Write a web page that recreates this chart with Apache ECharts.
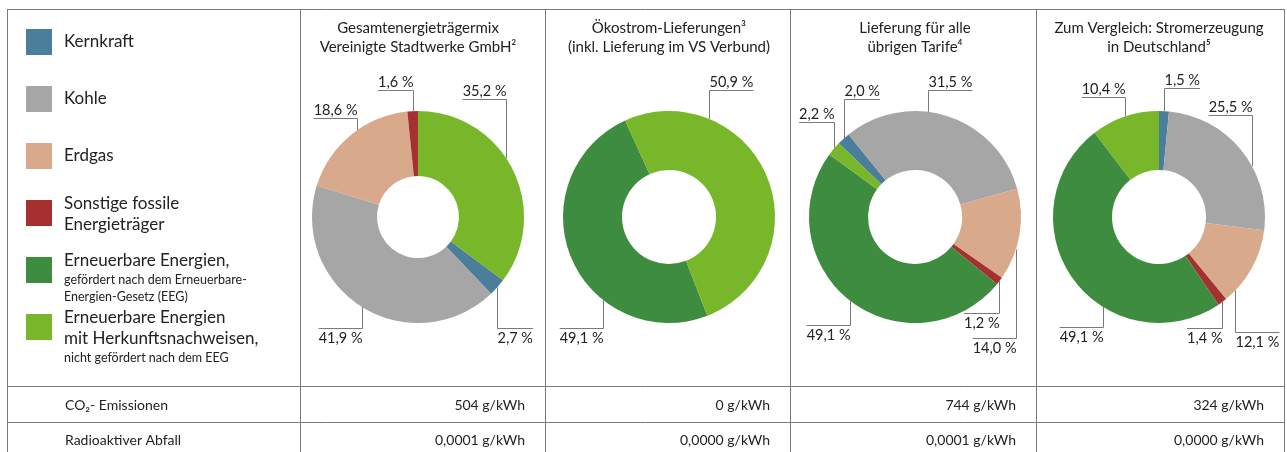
<!DOCTYPE html>
<html>
<head>
<meta charset="utf-8">
<title>Energieträgermix</title>
<script src="https://cdn.jsdelivr.net/npm/echarts@6.0.0/dist/echarts.min.js"></script>
<style>
    html, body { margin: 0; padding: 0; background: #fff; }
    #chart { width: 1287px; height: 452px; }
</style>
</head>
<body>
<div id="chart"></div>
<script>
    // Kategorien in Legendenreihenfolge
    const categories = ['Kernkraft', 'Kohle', 'Erdgas', 'Sonstige fossile Energieträger',
        'Erneuerbare Energien (EEG)', 'Erneuerbare Energien mit Herkunftsnachweisen'];
    // Legendentext: [große Zeilen, kleine Zeilen]
    const legendText = [
        [['Kernkraft'], []],
        [['Kohle'], []],
        [['Erdgas'], []],
        [['Sonstige fossile', 'Energieträger'], []],
        [['Erneuerbare Energien,'], ['gefördert nach dem Erneuerbare-', 'Energien-Gesetz (EEG)']],
        [['Erneuerbare Energien', 'mit Herkunftsnachweisen,'], ['nicht gefördert nach dem EEG']]
    ];
    const colors = ['#4a7e9b', '#a6a6a6', '#d9a98c', '#a5302f', '#3d8c40', '#78b72a'];

    // Anteile in % (Reihenfolge wie categories)
    const gesamtmix = [2.7, 41.9, 18.6, 1.6, 0, 35.2];
    const oekostrom = [0, 0, 0, 0, 49.1, 50.9];
    const uebrigeTarife = [2.0, 31.5, 14.0, 1.2, 49.1, 2.2];
    const deutschland = [1.5, 25.5, 12.1, 1.4, 49.1, 10.4];

    const pieTitles = [
        'Gesamtenergieträgermix\nVereinigte Stadtwerke GmbH²',
        'Ökostrom-Lieferungen³\n(inkl. Lieferung im VS Verbund)',
        'Lieferung für alle\nübrigen Tarife⁴',
        'Zum Vergleich: Stromerzeugung\nin Deutschland⁵'
    ];

    // Tabelle unter den Diagrammen
    const rowLabels = ['CO₂- Emissionen', 'Radioaktiver Abfall'];
    const co2Values = ['504 g/kWh', '0 g/kWh', '744 g/kWh', '324 g/kWh'];
    const wasteValues = ['0,0001 g/kWh', '0,0000 g/kWh', '0,0001 g/kWh', '0,0000 g/kWh'];

    // Beschriftungsplatzierung je Kategorie: [Winkelkorrektur, Abstand Linie zur Mitte, Seite]
    const placeGesamt = [[0, 111, 'r'], [0, 111, 'l'], [4, -99, 'l'], [0, -127, 'l'], null, [-7, -118, 'l']];
    const placeOeko = [null, null, null, null, [-29, 111, 'l'], [-45, -127, 'r']];
    const placeTarife = [[0, -118, 'r'], [-11, -127, 'r'], [8, 121, 'l'], [0, 96, 'l'], [0, 108, 'l'], [0, -95, 'l']];
    const placeDeutschland = [[0, -129, 'r'], [10, -102, 'l'], [15, 115, 'r'], [0, 111, 'l'], [-22, 110, 'l'], [0, -120, 'l']];

    const FONT = 'Lato, "Open Sans", sans-serif';
    const TEXT = '#222222';
    const GRID = '#7a7a7a';
    const R = 106, CY = 217;
    const colX = [7, 300, 545, 790, 1036, 1284];
    const rowY = [9, 386, 422];

    // startAt = Winkel (im Uhrzeigersinn ab 12 Uhr), bei dem Kernkraft beginnt
    const pies = [
        {values: gesamtmix, cx: 418, inner: 41, startAt: 126.7, place: placeGesamt},
        {values: oekostrom, cx: 669, inner: 47, startAt: 158.8, place: placeOeko},
        {values: uebrigeTarife, cx: 915, inner: 47, startAt: 314, place: placeTarife},
        {values: deutschland, cx: 1159, inner: 47, startAt: 0, place: placeDeutschland}
    ];

    const fmt = v => v.toFixed(1).replace('.', ',') + ' %';

    const series = pies.map(p => {
        const total = p.values.reduce((a, b) => a + b, 0);
        const items = [];
        let acc = 0;
        p.values.forEach((v, ci) => {
            if (v > 0) {
                items.push({ci, v, mid: p.startAt + (acc + v / 2) / total * 360});
            }
            acc += v;
        });
        return {
            type: 'pie',
            center: [p.cx, CY],
            radius: [p.inner, R],
            startAngle: 90 - p.startAt,
            clockwise: true,
            avoidLabelOverlap: false,
            silent: true,
            animation: false,
            data: items.map(it => ({name: categories[it.ci], value: it.v, itemStyle: {color: colors[it.ci]}})),
            itemStyle: {borderWidth: 0},
            label: {
                show: true,
                position: 'outside',
                formatter: params => fmt(params.value),
                fontSize: 14.5,
                fontFamily: FONT,
                color: TEXT
            },
            labelLine: {show: true, length: 5, length2: 5, smooth: false, lineStyle: {color: GRID, width: 1}},
            labelLayout: params => {
                const it = items[params.dataIndex];
                const [nudge, dy, side] = p.place[it.ci];
                const a = (it.mid + nudge) * Math.PI / 180;
                const ax = Math.round(p.cx + R * Math.sin(a)) + 0.5;
                const ay = CY - R * Math.cos(a);
                const ly = Math.round(CY + dy) + 0.5;
                const w = params.labelRect.width;
                const bx = side === 'l' ? ax - w : ax + w;
                return {
                    x: ax,
                    y: dy < 0 ? ly - 1 : ly + 2,
                    align: side === 'l' ? 'right' : 'left',
                    verticalAlign: dy < 0 ? 'bottom' : 'top',
                    labelLinePoints: [[ax, ay], [ax, ly], [bx, ly]]
                };
            }
        };
    });

    const graphic = [];
    // Tabellenraster
    rowY.forEach(y => {
        graphic.push({type: 'line', silent: true,
            shape: {x1: colX[0], y1: y + 0.5, x2: colX[5], y2: y + 0.5},
            style: {stroke: GRID, lineWidth: 1}});
    });
    colX.forEach(x => {
        graphic.push({type: 'line', silent: true,
            shape: {x1: x + 0.5, y1: rowY[0], x2: x + 0.5, y2: 452},
            style: {stroke: GRID, lineWidth: 1}});
    });

    // Legende
    legendText.forEach(([big, small], i) => {
        const top = 29 + 57 * i;
        graphic.push({type: 'rect', silent: true,
            shape: {x: 26, y: top, width: 26, height: 26},
            style: {fill: colors[i]}});
        const multi = big.length + small.length > 1;
        const text = big.map(t => '{a|' + t + '}').concat(small.map(t => '{b|' + t + '}')).join('\n');
        graphic.push({type: 'text', silent: true,
            x: 64, y: multi ? top - 7 : top + 2.5,
            style: {
                text: text,
                fill: TEXT,
                verticalAlign: 'top',
                rich: {
                    a: {fontSize: 17, lineHeight: 21, fontFamily: FONT, fill: TEXT},
                    b: {fontSize: 12.5, lineHeight: 17, fontFamily: FONT, fill: TEXT}
                }
            }});
    });

    // Diagrammtitel
    pies.forEach((p, i) => {
        graphic.push({type: 'text', silent: true,
            x: p.cx, y: 18.5,
            style: {text: pieTitles[i], fill: TEXT, font: '15px ' + FONT, lineHeight: 19,
                align: 'center', verticalAlign: 'top'}});
    });

    // Tabellenzeilen
    [co2Values, wasteValues].forEach((vals, r) => {
        const y = r === 0 ? 405 : 440;
        graphic.push({type: 'text', silent: true, x: 65, y: y,
            style: {text: rowLabels[r], fill: TEXT, font: '14px ' + FONT, align: 'left', verticalAlign: 'middle'}});
        vals.forEach((v, i) => {
            graphic.push({type: 'text', silent: true, x: colX[i + 2] - 20, y: y,
                style: {text: v, fill: TEXT, font: '14px ' + FONT, align: 'right', verticalAlign: 'middle'}});
        });
    });

    const myChart = echarts.init(document.getElementById('chart'));
    myChart.setOption({
        backgroundColor: '#fff',
        animation: false,
        tooltip: {show: false},
        series: series,
        graphic: graphic
    });
</script>
</body>
</html>
